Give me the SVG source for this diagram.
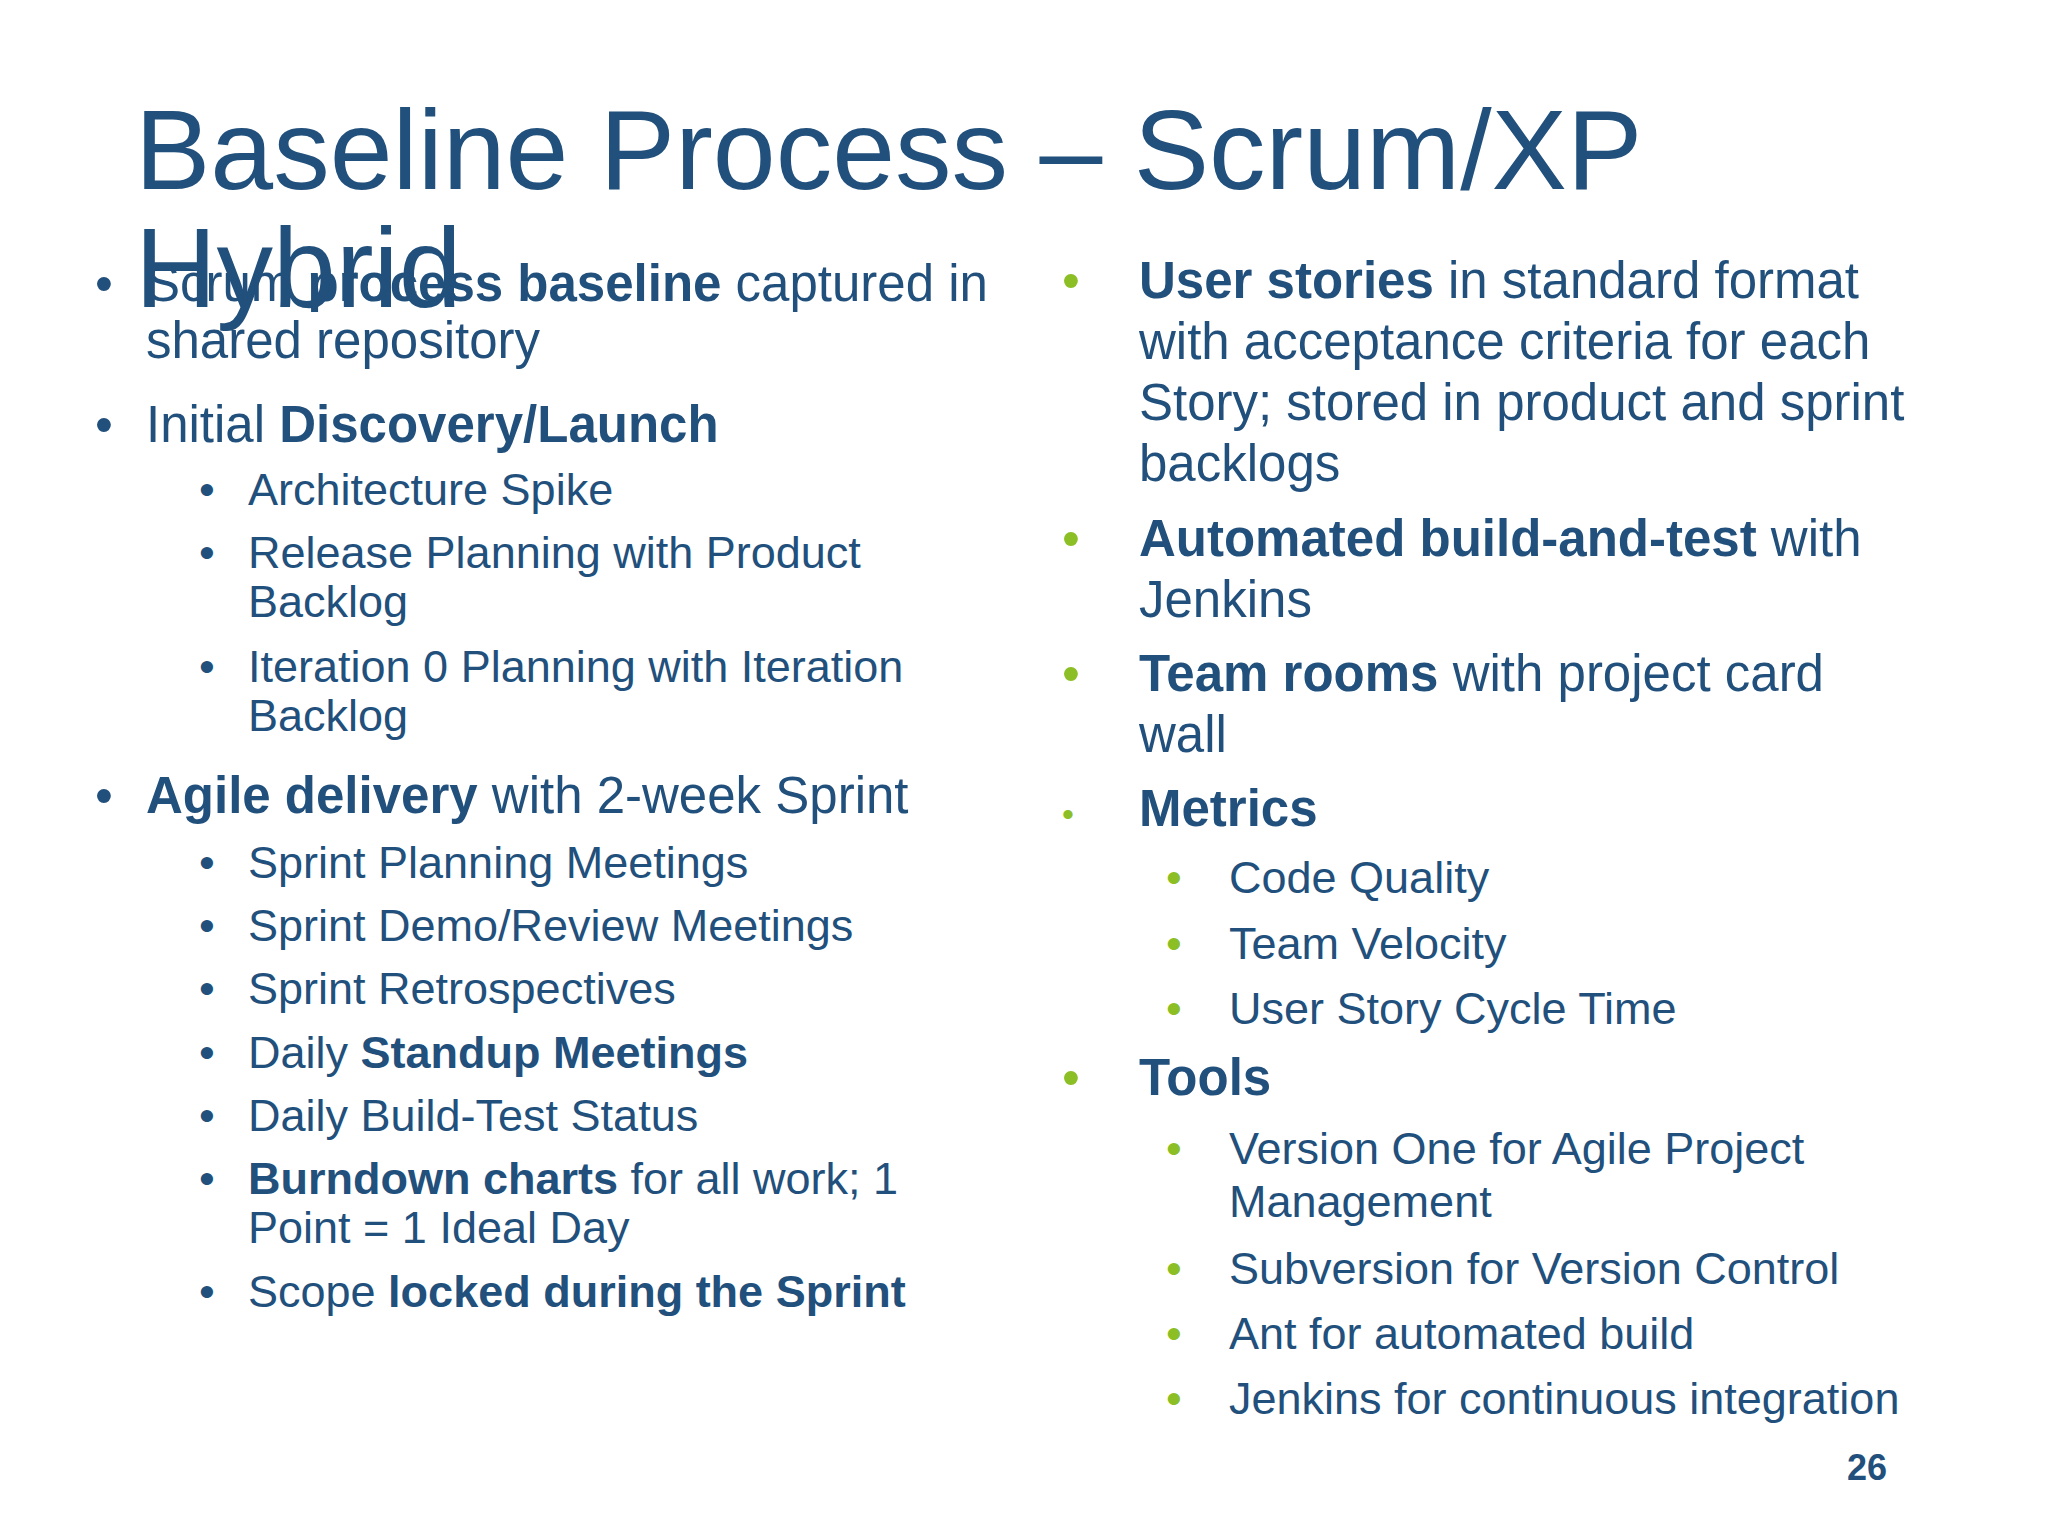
<svg xmlns="http://www.w3.org/2000/svg" width="2048" height="1536" viewBox="0 0 2048 1536">
<style>
text{font-family:"Liberation Sans",Arial,sans-serif;fill:#22507c}
.t{font-size:113px}
.l{font-size:51px}
.s{font-size:45px}
.b{font-weight:bold}
.g{fill:#8cbf26}
</style>
<rect width="2048" height="1536" fill="#ffffff"/>
<g id="title">
<text class="t" x="135" y="189">Baseline Process – Scrum/XP</text>
<text class="t" x="135" y="307">Hybrid</text>
</g>
<g id="left">
<text class="l" x="95" y="301">•</text>
<text class="l" x="146" y="301"><tspan>Scrum </tspan><tspan class="b">process baseline</tspan> captured in</text>
<text class="l" x="146" y="358">shared repository</text>
<text class="l" x="95" y="442">•</text>
<text class="l" x="146" y="442">Initial <tspan class="b">Discovery/Launch</tspan></text>
<text class="s" x="199" y="505">•</text><text class="s" x="248" y="505">Architecture Spike</text>
<text class="s" x="199" y="568">•</text><text class="s" x="248" y="568">Release Planning with Product</text>
<text class="s" x="248" y="617">Backlog</text>
<text class="s" x="199" y="682">•</text><text class="s" x="248" y="682">Iteration 0 Planning with Iteration</text>
<text class="s" x="248" y="731">Backlog</text>
<text class="l" x="95" y="813">•</text>
<text class="l" x="146" y="813"><tspan class="b">Agile delivery</tspan> with 2-week Sprint</text>
<text class="s" x="199" y="878">•</text><text class="s" x="248" y="878">Sprint Planning Meetings</text>
<text class="s" x="199" y="941">•</text><text class="s" x="248" y="941">Sprint Demo/Review Meetings</text>
<text class="s" x="199" y="1004">•</text><text class="s" x="248" y="1004">Sprint Retrospectives</text>
<text class="s" x="199" y="1068">•</text><text class="s" x="248" y="1068">Daily <tspan class="b">Standup Meetings</tspan></text>
<text class="s" x="199" y="1131">•</text><text class="s" x="248" y="1131">Daily Build-Test Status</text>
<text class="s" x="199" y="1194">•</text><text class="s" x="248" y="1194"><tspan class="b">Burndown charts</tspan> for all work; 1</text>
<text class="s" x="248" y="1243">Point = 1 Ideal Day</text>
<text class="s" x="199" y="1307">•</text><text class="s" x="248" y="1307">Scope <tspan class="b">locked during the Sprint</tspan></text>
</g>
<g id="right">
<text class="l g" x="1062" y="298">•</text>
<text class="l" x="1139" y="298"><tspan class="b">User stories</tspan> in standard format</text>
<text class="l" x="1139" y="359">with acceptance criteria for each</text>
<text class="l" x="1139" y="420">Story; stored in product and sprint</text>
<text class="l" x="1139" y="481">backlogs</text>
<text class="l g" x="1062" y="556">•</text>
<text class="l" x="1139" y="556"><tspan class="b">Automated build-and-test</tspan> with</text>
<text class="l" x="1139" y="617">Jenkins</text>
<text class="l g" x="1062" y="691">•</text>
<text class="l" x="1139" y="691"><tspan class="b">Team rooms</tspan> with project card</text>
<text class="l" x="1139" y="752">wall</text>
<text class="g" x="1062" y="826" style="font-size:34px">•</text>
<text class="l b" x="1139" y="826">Metrics</text>
<text class="s g" x="1166" y="893">•</text><text class="s" x="1229" y="893">Code Quality</text>
<text class="s g" x="1166" y="959">•</text><text class="s" x="1229" y="959">Team Velocity</text>
<text class="s g" x="1166" y="1024">•</text><text class="s" x="1229" y="1024">User Story Cycle Time</text>
<text class="l g" x="1062" y="1095">•</text>
<text class="l b" x="1139" y="1095">Tools</text>
<text class="s g" x="1166" y="1164">•</text><text class="s" x="1229" y="1164">Version One for Agile Project</text>
<text class="s" x="1229" y="1217">Management</text>
<text class="s g" x="1166" y="1284">•</text><text class="s" x="1229" y="1284">Subversion for Version Control</text>
<text class="s g" x="1166" y="1349">•</text><text class="s" x="1229" y="1349">Ant for automated build</text>
<text class="s g" x="1166" y="1414">•</text><text class="s" x="1229" y="1414">Jenkins for continuous integration</text>
</g>
<text x="1887" y="1480" text-anchor="end" style="font-size:36px;font-weight:bold">26</text>
</svg>
